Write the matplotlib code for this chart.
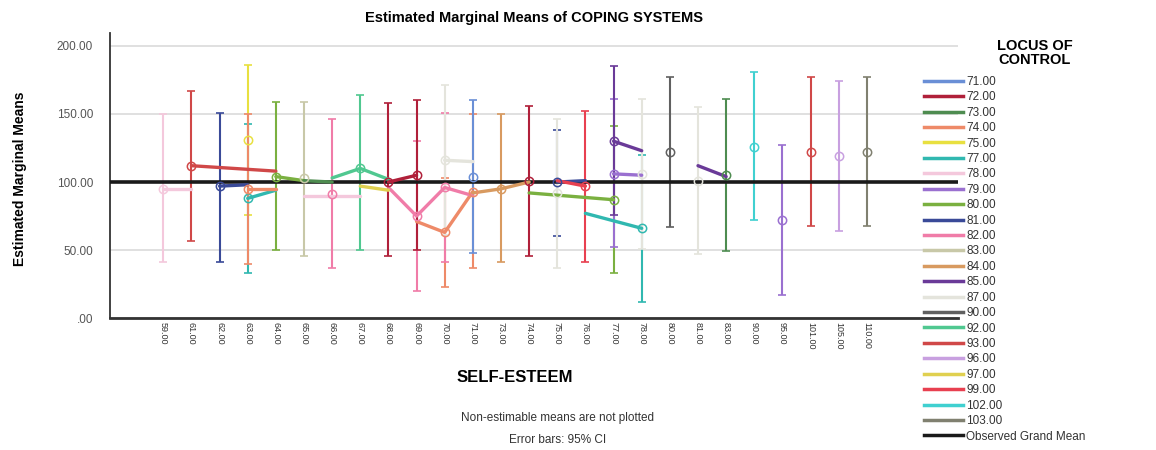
import numpy as np
import matplotlib.pyplot as plt
from matplotlib.lines import Line2D

plt.rcParams['font.family'] = ['Liberation Sans', 'DejaVu Sans']

# categories on the x axis (SELF-ESTEEM)
esteem_cats = ["59.00", "61.00", "62.00", "63.00", "64.00", "65.00", "66.00", "67.00",
               "68.00", "69.00", "70.00", "71.00", "73.00", "74.00", "75.00", "76.00",
               "77.00", "78.00", "80.00", "81.00", "83.00", "90.00", "95.00", "101.00",
               "105.00", "110.00"]

# legend groups (LOCUS OF CONTROL)
locus_labels = ["71.00", "72.00", "73.00", "74.00", "75.00", "77.00", "78.00", "79.00",
                "80.00", "81.00", "82.00", "83.00", "84.00", "85.00", "87.00", "90.00",
                "92.00", "93.00", "96.00", "97.00", "99.00", "102.00", "103.00"]
locus_colors = ["#6a8fd6", "#b0203a", "#4e8c50", "#ee8a68", "#e8e040", "#30b8b0", "#f4c8dc",
                "#9a70d0", "#7ab040", "#3a4a98", "#f07ca8", "#c8c8a8", "#d89a60", "#6a3a98",
                "#e4e4dc", "#606060", "#50c890", "#d04848", "#c8a0e0", "#e0d050", "#e84050",
                "#40d0d0", "#808070"]

grand_mean = 100.0

nan = np.nan
# estimated means, one row per point; run = points joined by a line
pt_locus = ["78.00", "78.00", "78.00", "78.00",
            "93.00", "93.00", "93.00",
            "81.00", "81.00", "81.00", "81.00",
            "75.00",
            "77.00", "77.00", "77.00", "77.00",
            "74.00", "74.00", "74.00", "74.00", "74.00",
            "80.00", "80.00", "80.00", "80.00",
            "83.00",
            "73.00", "73.00", "73.00",
            "82.00", "82.00", "82.00", "82.00", "82.00",
            "92.00", "92.00", "92.00",
            "97.00", "97.00",
            "72.00", "72.00", "72.00",
            "87.00", "87.00", "87.00", "87.00", "87.00",
            "71.00",
            "84.00", "84.00", "84.00",
            "99.00", "99.00",
            "79.00", "79.00", "79.00",
            "85.00", "85.00", "85.00", "85.00",
            "90.00", "102.00", "96.00", "103.00"]
pt_esteem = ["59.00", "61.00", "65.00", "67.00",
             "61.00", "64.00", "101.00",
             "62.00", "63.00", "75.00", "76.00",
             "63.00",
             "63.00", "64.00", "76.00", "78.00",
             "63.00", "64.00", "69.00", "70.00", "71.00",
             "64.00", "65.00", "74.00", "77.00",
             "65.00",
             "65.00", "66.00", "83.00",
             "66.00", "68.00", "69.00", "70.00", "71.00",
             "66.00", "67.00", "68.00",
             "67.00", "68.00",
             "68.00", "69.00", "74.00",
             "70.00", "71.00", "75.00", "78.00", "81.00",
             "71.00",
             "71.00", "73.00", "74.00",
             "75.00", "76.00",
             "77.00", "78.00", "95.00",
             "77.00", "78.00", "81.00", "83.00",
             "80.00", "90.00", "105.00", "110.00"]
pt_mean = [95, 95, 90, 90,
           112, 108, 122,
           97, 98, 100, 101,
           131,
           88, 94, 77, 66,
           95, 95, 71, 63, 93,
           104, 101, 92, 87,
           103,
           101, 100, 105,
           91, 96, 75, 96, 90,
           103, 110, 102,
           97, 94,
           100, 105, 101,
           116, 115, 92, 106, 101,
           104,
           92, 95, 100,
           101, 97,
           106, 105, 72,
           130, 123, 112, 104,
           122, 126, 119, 122]
pt_low = [41, nan, nan, nan,
          57, nan, 68,
          41, nan, 60, nan,
          76,
          33, nan, nan, 12,
          40, nan, nan, 23, 37,
          50, nan, nan, 33,
          46,
          nan, nan, 49,
          37, nan, 20, 41, nan,
          nan, 50, nan,
          nan, nan,
          46, 50, 46,
          61, nan, 37, 51, 47,
          48,
          nan, 41, nan,
          nan, 41,
          52, nan, 17,
          76, nan, nan, nan,
          67, 72, 64, 68]
pt_high = [150, nan, nan, nan,
           167, nan, 177,
           151, nan, 138, nan,
           186,
           143, nan, nan, 120,
           150, nan, nan, 103, 150,
           159, nan, nan, 141,
           159,
           nan, nan, 161,
           146, nan, 130, 151, nan,
           nan, 164, nan,
           nan, nan,
           158, 160, 156,
           171, nan, 146, 161, 155,
           160,
           nan, 150, nan,
           nan, 152,
           161, nan, 127,
           185, nan, nan, nan,
           177, 181, 174, 177]
pt_run = ["78a", "78a", "78b", "78b",
          "93a", "93a", "",
          "81a", "81a", "81b", "81b",
          "",
          "77a", "77a", "77b", "77b",
          "74a", "74a", "74b", "74b", "74b",
          "80a", "80a", "80b", "80b",
          "",
          "73a", "73a", "",
          "", "82a", "82a", "82a", "82a",
          "92a", "92a", "92a",
          "97a", "97a",
          "72a", "72a", "",
          "87a", "87a", "", "", "",
          "",
          "84a", "84a", "84a",
          "99a", "99a",
          "79a", "79a", "",
          "85a", "85a", "85b", "85b",
          "", "", "", ""]

xpos = np.array([esteem_cats.index(e) for e in pt_esteem], dtype=float)
means = np.array(pt_mean, dtype=float)
lows = np.array(pt_low, dtype=float)
highs = np.array(pt_high, dtype=float)
col_of = dict(zip(locus_labels, locus_colors))

fig = plt.figure(figsize=(11.56, 4.5), dpi=100)
ax = fig.add_axes([0.095, 0.293, 0.734, 0.634])

# error bars + markers
for i in range(len(pt_locus)):
    c = col_of[pt_locus[i]]
    if not np.isnan(lows[i]):
        ax.errorbar(xpos[i], means[i], yerr=[[means[i] - lows[i]], [highs[i] - means[i]]],
                    fmt='none', ecolor=c, elinewidth=1.5, capsize=3, capthick=1.2, zorder=2)
        ax.plot(xpos[i], means[i], 'o', mfc='none', mec=c, ms=6, mew=1.1, zorder=5)

ax.axhline(grand_mean, color='#1a1a1a', lw=2.6, zorder=3)

# line runs
for run in dict.fromkeys(pt_run):
    if run == "":
        continue
    idx = [i for i in range(len(pt_run)) if pt_run[i] == run]
    ax.plot(xpos[idx], means[idx], '-', color=col_of[pt_locus[idx[0]]], lw=2.4,
            solid_capstyle='round', zorder=4)

ax.set_xlim(-1.9, 28.25)
ax.set_ylim(0, 209.6)
ax.set_yticks([0, 50, 100, 150, 200])
ax.set_yticklabels([".00", "50.00", "100.00", "150.00", "200.00"], fontsize=8.5, color='#555555')
ax.set_xticks(range(len(esteem_cats)))
ax.set_xticklabels(esteem_cats, rotation=-90, fontsize=6.5, color='#333333')
ax.tick_params(axis='x', length=0, pad=3)
ax.tick_params(axis='y', length=0, pad=12)
ax.yaxis.grid(True, color='#dddddd', lw=1.3)
ax.set_axisbelow(True)
for s in ['top', 'right']:
    ax.spines[s].set_visible(False)
ax.spines['left'].set_color('#333333')
ax.spines['bottom'].set_color('#333333')
ax.spines['left'].set_linewidth(1.3)
ax.spines['bottom'].set_linewidth(2)

ax.set_title("Estimated Marginal Means of COPING SYSTEMS", fontsize=10.5, fontweight='bold', pad=8)
ax.set_ylabel("Estimated Marginal Means", fontsize=10, fontweight='bold')
ax.yaxis.set_label_coords(-0.098, 0.49)
fig.text(0.445, 0.162, "SELF-ESTEEM", ha='center', va='center', fontsize=12, fontweight='bold')
fig.text(0.482, 0.07, "Non-estimable means are not plotted", ha='center', va='center', fontsize=8.5,
         color='#333333')
fig.text(0.482, 0.022, "Error bars: 95% CI", ha='center', va='center', fontsize=8.5, color='#333333')

# legend
handles = [Line2D([], [], color=c, lw=2.5) for c in locus_colors]
handles.append(Line2D([], [], color='#1a1a1a', lw=2.5))
labels = locus_labels + ["Observed Grand Mean"]
fig.text(0.895, 0.882, "LOCUS OF\nCONTROL", ha='center', va='center', fontsize=10.5,
         fontweight='bold', linespacing=1.0)
fig.legend(handles, labels, loc='upper left', bbox_to_anchor=(0.795, 0.842), frameon=False,
           fontsize=8.5, handlelength=3.3, handletextpad=0.3, labelspacing=0.29, borderaxespad=0,
           labelcolor='#333333')

fig.savefig("out.png", dpi=100)
